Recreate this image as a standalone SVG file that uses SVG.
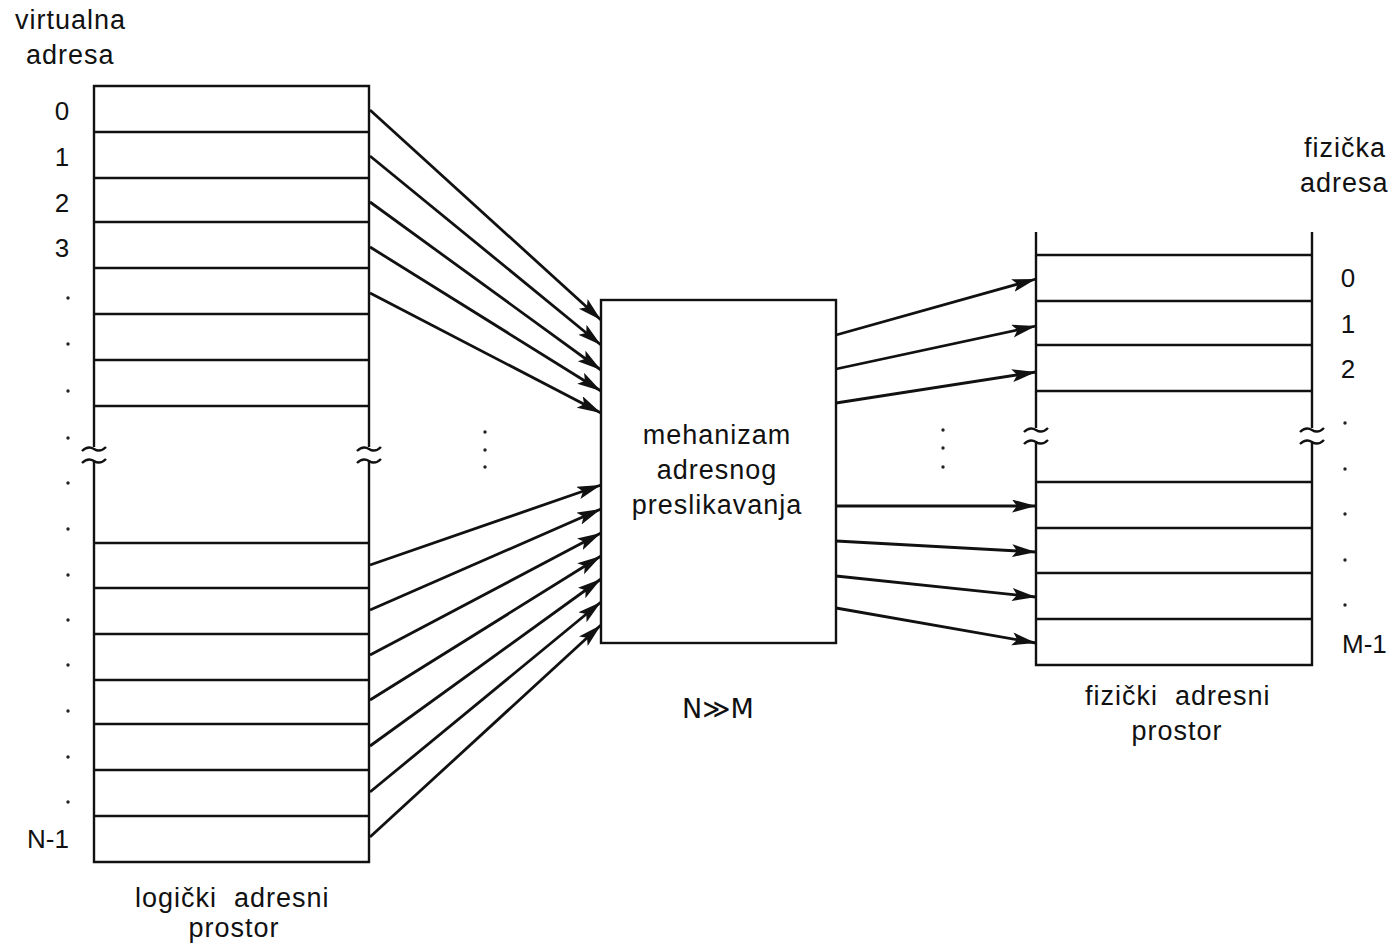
<svg xmlns="http://www.w3.org/2000/svg" width="1400" height="950" viewBox="0 0 1400 950">
<defs>
<marker id="ah" markerUnits="userSpaceOnUse" markerWidth="26" markerHeight="14" refX="24" refY="6.5" orient="auto">
<path d="M0,0 L24,6.5 L0,13 L5,6.5 Z" fill="#111"/>
</marker>
</defs>
<style>
.t{font-family:"Liberation Sans",Arial,"DejaVu Sans",sans-serif;font-size:27px;fill:#111;letter-spacing:1px;white-space:pre}
.d{font-family:"Liberation Sans",Arial,sans-serif;font-size:26px;fill:#111}
.ln{stroke:#111;stroke-width:2.4;fill:none}
.ar{stroke:#111;stroke-width:2.8;fill:none;marker-end:url(#ah)}
.dot{fill:#222}
</style>
<rect width="1400" height="950" fill="#fff"/>

<g id="logical-space">
<path class="ln" d="M94,447 V86 H369 V447 M94,461 V862 H369 V461"/>
<path class="ln" d="M94,132 H369 M94,178 H369 M94,222 H369 M94,268 H369 M94,314 H369 M94,360 H369 M94,406 H369 M94,543 H369 M94,588 H369 M94,634 H369 M94,680 H369 M94,724 H369 M94,770 H369 M94,816 H369"/>
<path class="ln" stroke-width="1.8" d="M82,451 q6,-6 12,-2 t12,-2 M82,463 q6,-6 12,-2 t12,-2 M357,451 q6,-6 12,-2 t12,-2 M357,463 q6,-6 12,-2 t12,-2"/>
<text class="t" x="15" y="29">virtualna</text>
<text class="t" x="26" y="64">adresa</text>
<text class="d" x="62" y="120" text-anchor="middle">0</text>
<text class="d" x="62" y="166" text-anchor="middle">1</text>
<text class="d" x="62" y="212" text-anchor="middle">2</text>
<text class="d" x="62" y="257" text-anchor="middle">3</text>
<g class="dot">
<circle cx="68" cy="298" r="1.7"/><circle cx="68" cy="344" r="1.7"/><circle cx="68" cy="391" r="1.7"/><circle cx="68" cy="438" r="1.7"/><circle cx="68" cy="483" r="1.7"/><circle cx="68" cy="529" r="1.7"/><circle cx="68" cy="575" r="1.7"/><circle cx="68" cy="620" r="1.7"/><circle cx="68" cy="665" r="1.7"/><circle cx="68" cy="711" r="1.7"/><circle cx="68" cy="757" r="1.7"/><circle cx="68" cy="802" r="1.7"/>
</g>
<text class="d" x="27" y="848">N-1</text>
<text class="t" x="135" y="907" xml:space="preserve">logički  adresni</text>
<text class="t" x="234" y="937" text-anchor="middle">prostor</text>
</g>

<g id="mapping-mechanism">
<rect class="ln" x="601" y="300" width="235" height="343"/>
<text class="t" x="717" y="444" text-anchor="middle">mehanizam</text>
<text class="t" x="717" y="479" text-anchor="middle">adresnog</text>
<text class="t" x="717" y="514" text-anchor="middle">preslikavanja</text>
<text class="t" x="718" y="718" text-anchor="middle" style="font-family:'DejaVu Sans','Liberation Sans',sans-serif;font-size:27px;letter-spacing:0">N≫M</text>
</g>

<g id="physical-space">
<path class="ln" d="M1036,232 V428 M1312,232 V428 M1036,442 V665 H1312 V442"/>
<path class="ln" d="M1036,255 H1312 M1036,301 H1312 M1036,345 H1312 M1036,391 H1312 M1036,482 H1312 M1036,528 H1312 M1036,573 H1312 M1036,619 H1312"/>
<path class="ln" stroke-width="1.8" d="M1024,432 q6,-6 12,-2 t12,-2 M1024,444 q6,-6 12,-2 t12,-2 M1300,432 q6,-6 12,-2 t12,-2 M1300,444 q6,-6 12,-2 t12,-2"/>
<text class="t" x="1304" y="157">fizička</text>
<text class="t" x="1300" y="192">adresa</text>
<text class="d" x="1348" y="287" text-anchor="middle">0</text>
<text class="d" x="1348" y="333" text-anchor="middle">1</text>
<text class="d" x="1348" y="378" text-anchor="middle">2</text>
<g class="dot">
<circle cx="1345" cy="423" r="1.7"/><circle cx="1345" cy="469" r="1.7"/><circle cx="1345" cy="514" r="1.7"/><circle cx="1345" cy="560" r="1.7"/><circle cx="1345" cy="605" r="1.7"/>
</g>
<text class="d" x="1342" y="653">M-1</text>
<text class="t" x="1085" y="705" xml:space="preserve">fizički  adresni</text>
<text class="t" x="1177" y="740" text-anchor="middle">prostor</text>
</g>

<g id="connectors">
<line class="ar" x1="370" y1="110" x2="601" y2="320"/>
<line class="ar" x1="370" y1="156" x2="601" y2="345"/>
<line class="ar" x1="370" y1="202" x2="601" y2="370"/>
<line class="ar" x1="370" y1="247" x2="601" y2="391"/>
<line class="ar" x1="370" y1="293" x2="601" y2="413"/>
<line class="ar" x1="370" y1="565" x2="601" y2="485"/>
<line class="ar" x1="370" y1="610" x2="601" y2="509"/>
<line class="ar" x1="370" y1="655" x2="601" y2="533"/>
<line class="ar" x1="370" y1="700" x2="601" y2="556"/>
<line class="ar" x1="370" y1="746" x2="601" y2="579"/>
<line class="ar" x1="370" y1="792" x2="601" y2="602"/>
<line class="ar" x1="370" y1="837" x2="601" y2="625"/>
<line class="ar" x1="836" y1="335" x2="1036" y2="279"/>
<line class="ar" x1="836" y1="369" x2="1036" y2="326"/>
<line class="ar" x1="836" y1="403" x2="1036" y2="372"/>
<line class="ar" x1="836" y1="506" x2="1036" y2="506"/>
<line class="ar" x1="836" y1="541" x2="1036" y2="552"/>
<line class="ar" x1="836" y1="576" x2="1036" y2="597"/>
<line class="ar" x1="836" y1="608" x2="1036" y2="643"/>
<g class="dot">
<circle cx="485" cy="432" r="1.7"/><circle cx="485" cy="450" r="1.7"/><circle cx="485" cy="467" r="1.7"/>
<circle cx="943" cy="430" r="1.7"/><circle cx="943" cy="448" r="1.7"/><circle cx="943" cy="467" r="1.7"/>
</g>
</g>
</svg>
